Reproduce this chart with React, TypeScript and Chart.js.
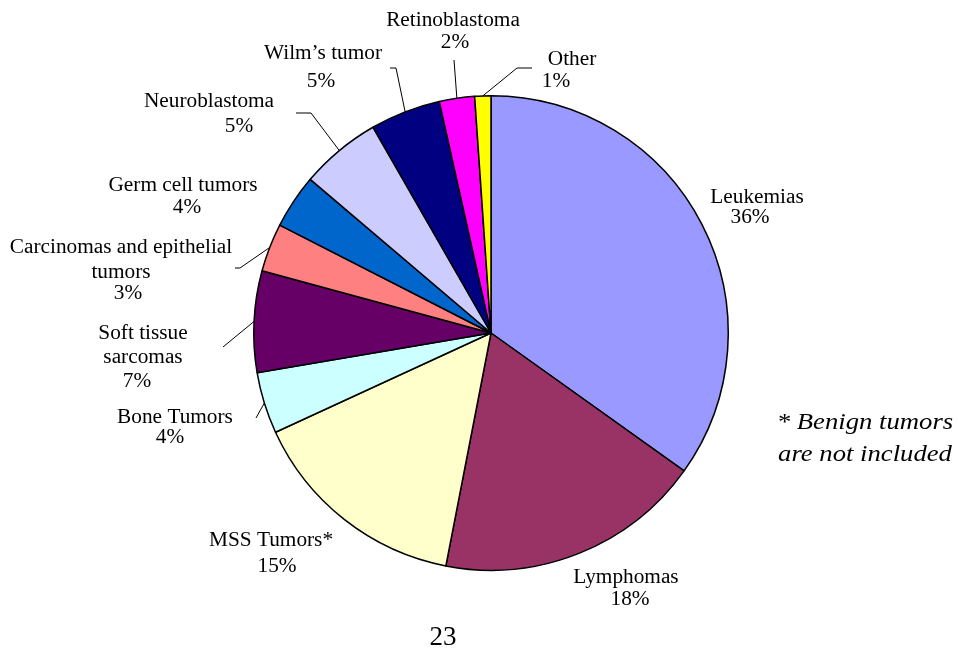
import React, { useEffect, useRef } from "react";
import { Chart, registerables } from "chart.js";

Chart.register(...registerables);

// ---- data ----
const categories = [
  "Leukemias",
  "Lymphomas",
  "MSS Tumors*",
  "Bone Tumors",
  "Soft tissue sarcomas",
  "Carcinomas and epithelial tumors",
  "Germ cell tumors",
  "Neuroblastoma",
  "Wilm’s tumor",
  "Retinoblastoma",
  "Other",
];
const shares = [34.9, 18.2, 15.1, 4.2, 6.9, 3.3, 3.7, 5.5, 4.8, 2.4, 1.1];
const percentLabels = ["36%", "18%", "15%", "4%", "7%", "3%", "4%", "5%", "5%", "2%", "1%"];
const labelTextLines = [
  ["Leukemias"],
  ["Lymphomas"],
  ["MSS Tumors*"],
  ["Bone Tumors"],
  ["Soft tissue", "sarcomas"],
  ["Carcinomas and epithelial", "tumors"],
  ["Germ cell tumors"],
  ["Neuroblastoma"],
  ["Wilm’s tumor"],
  ["Retinoblastoma"],
  ["Other"],
];
const sliceColors = [
  "#9999FF",
  "#993366",
  "#FFFFCC",
  "#CCFFFF",
  "#660066",
  "#FF8080",
  "#0066CC",
  "#CCCCFF",
  "#000080",
  "#FF00FF",
  "#FFFF00",
];
const footnoteLines = ["* Benign tumors", "are not included"];
const pageNumber = "23";

// ---- label layout (text line centres / baselines, leader elbows from arc outward) ----
const labelLayout: { lines: number[][]; leader: number[][] | null }[] = [
  { lines: [[757, 203], [750, 223]], leader: null },
  { lines: [[626, 583], [630, 605]], leader: null },
  { lines: [[271, 546], [277, 572]], leader: null },
  { lines: [[175, 423], [170, 443]], leader: [[256, 418]] },
  { lines: [[143, 339], [143, 363], [137, 387]], leader: [[223, 347]] },
  { lines: [[121, 253], [121, 278], [128, 299]], leader: [[240, 268], [235, 268]] },
  { lines: [[183, 191], [187, 213]], leader: null },
  { lines: [[209, 107], [239, 132]], leader: [[311, 113], [296, 113]] },
  { lines: [[323, 59], [321, 87]], leader: [[396, 68], [390, 68]] },
  { lines: [[453, 26], [455, 48]], leader: [[454, 60]] },
  { lines: [[572, 65], [556, 87]], leader: [[517, 68], [532, 68]] },
];

const FONT = '"Liberation Serif", "Times New Roman", serif';

function drawText(ctx: CanvasRenderingContext2D, text: string, x: number, y: number, font: string, sx: number) {
  ctx.save();
  ctx.font = font;
  ctx.textAlign = "center";
  ctx.textBaseline = "alphabetic";
  ctx.translate(x, y);
  ctx.scale(sx, 1);
  ctx.fillText(text, 0, 0);
  ctx.restore();
}

const labelPlugin = {
  id: "pieLabels",
  afterDraw(chart: any) {
    const ctx = chart.ctx as CanvasRenderingContext2D;
    const meta = chart.getDatasetMeta(0);
    ctx.save();
    ctx.fillStyle = "#000";
    ctx.strokeStyle = "#000";
    ctx.lineWidth = 1;
    meta.data.forEach((arc: any, i: number) => {
      const lay = labelLayout[i];
      const p = arc.getProps(["x", "y", "startAngle", "endAngle", "outerRadius"], true);
      if (lay.leader) {
        const mid = (p.startAngle + p.endAngle) / 2;
        const px = p.x + Math.cos(mid) * p.outerRadius;
        const py = p.y + Math.sin(mid) * p.outerRadius;
        ctx.beginPath();
        ctx.moveTo(px, py);
        lay.leader.forEach(([lx, ly]) => ctx.lineTo(lx, ly));
        ctx.stroke();
      }
      const texts = [...labelTextLines[i], percentLabels[i]];
      texts.forEach((t, k) => {
        const [tx, ty] = lay.lines[k];
        drawText(ctx, t, tx, ty, `20px ${FONT}`, 1.065);
      });
    });
    drawText(ctx, footnoteLines[0], 865, 429, `italic 23px ${FONT}`, 1.16);
    drawText(ctx, footnoteLines[1], 865, 461, `italic 23px ${FONT}`, 1.16);
    drawText(ctx, pageNumber, 443, 645, `27px ${FONT}`, 1);
    ctx.restore();
  },
};

export default function App() {
  const ref = useRef<HTMLCanvasElement | null>(null);
  useEffect(() => {
    document.body.style.margin = "0";
    const canvas = ref.current;
    if (!canvas) return;
    const chart = new Chart(canvas, {
      type: "pie",
      data: {
        labels: categories,
        datasets: [
          {
            data: shares,
            backgroundColor: sliceColors,
            borderColor: "#000",
            borderWidth: 1.5,
          },
        ],
      },
      options: {
        animation: false,
        responsive: true,
        maintainAspectRatio: false,
        layout: { padding: { left: 253, right: 230, top: 95, bottom: 79 } },
        plugins: {
          legend: { display: false },
          tooltip: { enabled: false },
        },
      },
      plugins: [labelPlugin],
    });
    return () => chart.destroy();
  }, []);
  return (
    <div style={{ position: "absolute", left: 0, top: 0, width: 959, height: 650, background: "#fff" }}>
      <canvas ref={ref} />
    </div>
  );
}
